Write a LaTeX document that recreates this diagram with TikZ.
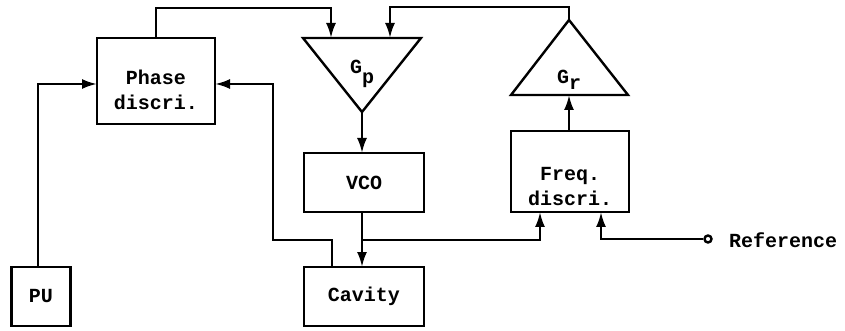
\documentclass[tikz,border=0pt]{standalone}
\usepackage{fontspec}
\setmainfont{Liberation Mono}
\usetikzlibrary{arrows.meta}
\begin{document}
\begin{tikzpicture}[x=0.5pt,y=-0.5pt,line width=1.2pt,
  box/.style={draw,rectangle,inner sep=0pt,line width=1.2pt,font=\bfseries\fontsize{10pt}{12.5pt}\selectfont,align=center},
  lbl/.style={inner sep=0pt,font=\bfseries\fontsize{10pt}{12pt}\selectfont},
  arr/.style={-{Latex[length=7.5pt,width=5pt]},line width=1.2pt}]
\useasboundingbox (0,0) rectangle (845,331);
% boxes
\node[box,minimum width=59pt,minimum height=43pt] (phase) at (156,81) {\raisebox{-7pt}[0pt][0pt]{\parbox{50pt}{\centering\baselineskip=12.5pt Phase\\discri.}}};
\node[box,minimum width=60pt,minimum height=29.5pt] (vco) at (364,182.5) {VCO};
\node[box,minimum width=60pt,minimum height=29.5pt] (cavity) at (364,296.5) {Cavity};
\node[box,minimum width=29.5pt,minimum height=29.5pt] (pu) at (41,296.5) {PU};
\node[box,minimum width=59pt,minimum height=40.5pt] (freq) at (570,171.5) {\raisebox{-10pt}[0pt][0pt]{\parbox{50pt}{\centering\baselineskip=12.5pt Freq.\\discri.}}};
% triangles
\coordinate (gpA) at (303,38);
\coordinate (gpB) at (421,38);
\coordinate (gpapex) at (362,112);
\draw[line join=miter] (gpA) -- (gpB) -- (gpapex) -- cycle;
\node[lbl] (gp) at (362,74) {G\raisebox{-5pt}{p}};
\coordinate (grapex) at (569,20);
\coordinate (grL) at (511,95);
\coordinate (grR) at (628,95);
\draw[line join=miter] (grapex) -- (grR) -- (grL) -- cycle;
\node[lbl] (gr) at (569,80) {G\raisebox{-3pt}{r}};
% connection points
\coordinate (gpin1) at (331,38);
\coordinate (gpin2) at (390,38);
\coordinate (grbase) at (569,95);
\coordinate (phin1) at (97,84);
\coordinate (phin2) at (215,84);
\coordinate (vcoout) at (362,153);
\coordinate (cavin) at (362,267);
\coordinate (cavout) at (332,267);
\coordinate (j) at (362,240);
\coordinate (fin1) at (540,212);
\coordinate (fin2) at (601,212);
\coordinate (puout) at (38,267);
% connectors
\draw[arr] (phase.north) |- (157,8) -| (gpin1);
\draw[arr] (grapex) |- (569,7) -| (gpin2);
\draw[arr] (gpapex) -- (vcoout);
\draw[arr] (362,212) -- (cavin);
\draw[arr] (j) -| (fin1);
\draw[arr] (cavout) |- (273,240) |- (phin2);
\draw[arr] (puout) |- (phin1);
\draw[arr] (freq.north -| grbase) -- (grbase);
\node[draw,circle,fill=white,inner sep=0pt,minimum size=3.5pt,line width=1.2pt] (ref) at (708,239) {};
\draw[arr] (ref.west) -| (fin2);
\node[lbl,anchor=west] (reftext) at (728,240) {Reference};
\end{tikzpicture}
\end{document}
